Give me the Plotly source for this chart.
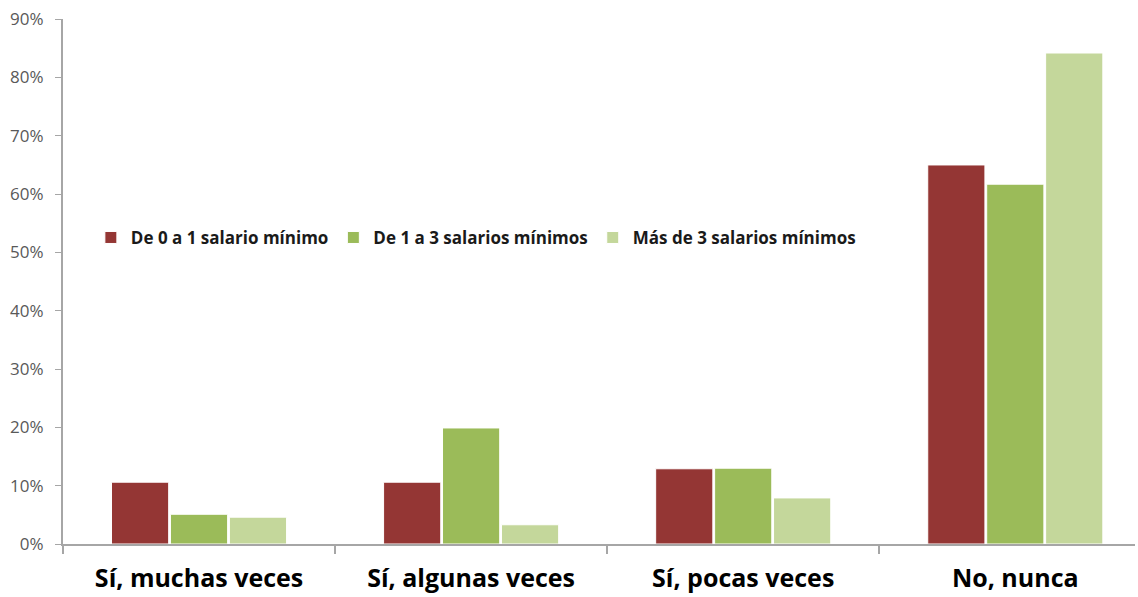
import plotly.graph_objects as go

categories = ["Sí, muchas veces", "Sí, algunas veces", "Sí, pocas veces", "No, nunca"]
series_names = ["De 0 a 1 salario mínimo", "De 1 a 3 salarios mínimos", "Más de 3 salarios mínimos"]
values_0_1 = [0.106, 0.106, 0.129, 0.650]
values_1_3 = [0.051, 0.199, 0.130, 0.617]
values_3_plus = [0.046, 0.033, 0.079, 0.842]
colors = ["#943634", "#9BBB59", "#C4D79B"]
y_ticks = [0, 0.1, 0.2, 0.3, 0.4, 0.5, 0.6, 0.7, 0.8, 0.9]

fig = go.Figure()
for name, vals, col in zip(series_names, [values_0_1, values_1_3, values_3_plus], colors):
    fig.add_trace(go.Bar(
        x=categories, y=vals, name=name,
        marker=dict(color=col, line=dict(color="white", width=1)),
    ))

fig.update_layout(
    width=1138, height=597,
    margin=dict(l=63, r=3, t=19, b=53),
    paper_bgcolor="white", plot_bgcolor="white",
    barmode="group", bargap=0.35, bargroupgap=0.03,
    font=dict(family="Open Sans, Liberation Sans, sans-serif"),
    legend=dict(
        orientation="h", x=0.026, y=0.583, xanchor="left", yanchor="middle",
        font=dict(size=17, color="#1a1a1a", family="Open Sans, sans-serif", weight="bold"),
        bgcolor="rgba(0,0,0,0)", itemwidth=30, tracegroupgap=0,
    ),
    xaxis=dict(
        range=[-0.5, 3.44], automargin=False,
        showline=True, linecolor="#A6A6A6", linewidth=2,
        ticks="outside", tickson="boundaries", ticklen=8, tickcolor="#A6A6A6", tickwidth=2,
        tickfont=dict(size=25, color="black", family="Open Sans, sans-serif", weight="bold"),
        ticklabelstandoff=11,
        showgrid=False, zeroline=False,
    ),
    yaxis=dict(
        range=[0, 0.9003], tickvals=y_ticks, tickformat=".0%", automargin=False,
        showline=True, linecolor="#A6A6A6", linewidth=2,
        ticks="outside", ticklen=6, tickcolor="#A6A6A6", tickwidth=1,
        tickfont=dict(size=17, color="#595959", family="Open Sans, sans-serif"),
        showgrid=False, zeroline=False, ticklabelstandoff=8,
    ),
)

fig.write_html(
    "out.html",
    config={"displayModeBar": False},
    post_script="document.body.style.margin='0px';document.body.style.overflow='hidden';",
)
